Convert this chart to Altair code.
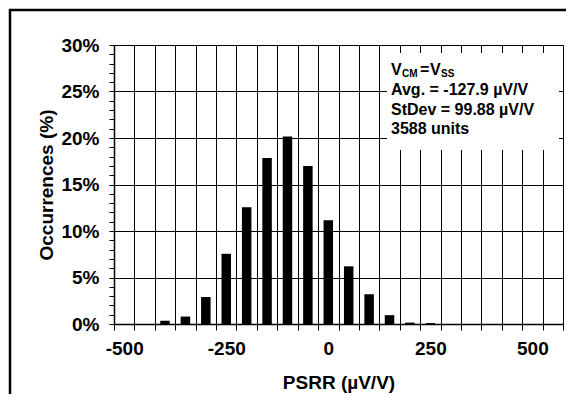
import altair as alt
import pandas as pd

# Histogram data (bin centres in µV/V, occurrences in %)
centers = [-400, -350, -300, -250, -200, -150, -100, -50, 0, 50, 100, 150, 200, 250]
occurrences = [0.35, 0.8, 2.9, 7.55, 12.55, 17.85, 20.15, 17.0, 11.15, 6.2, 3.2, 0.95, 0.15, 0.1]

x_ticks = list(range(-525, 576, 25))
y_ticks = list(range(0, 31, 1))
info_lines = ["Avg. = -127.9 µV/V", "StDev = 99.88 µV/V", "3588 units"]

FONT = "Liberation Sans"
df = pd.DataFrame({"psrr": centers, "occ": occurrences})
one = pd.DataFrame({"a": [0]})

x_axis = alt.Axis(
    values=x_ticks,
    title="PSRR (µV/V)",
    labelExpr="datum.value % 250 == 0 ? ('' + datum.value) : ''",
    labelOverlap=False,
    labelFlush=False,
    labelFont=FONT, labelFontSize=19, labelFontWeight="bold", labelColor="black",
    labelPadding=9,
    titleFont=FONT, titleFontSize=19, titleFontWeight="bold", titleColor="black",
    titleY=64, titleBaseline="alphabetic",
    grid=True,
    gridColor="black", gridWidth=1,
    gridOpacity={"condition": {"test": "abs(datum.value) % 50 == 25", "value": 1}, "value": 0},
    tickOpacity={"condition": {"test": "abs(datum.value) % 50 == 25", "value": 1}, "value": 0},
    tickColor="black", tickSize=6, tickWidth=1,
    domainColor="black", domainWidth=1.5,
)

y_axis = alt.Axis(
    values=y_ticks,
    title="Occurrences (%)",
    labelExpr="datum.value % 5 == 0 ? datum.value + '%' : ''",
    labelOverlap=False,
    labelFont=FONT, labelFontSize=19, labelFontWeight="bold", labelColor="black",
    labelPadding=10,
    titleFont=FONT, titleFontSize=19, titleFontWeight="bold", titleColor="black",
    titleX=-62, titleBaseline="alphabetic", titleAngle=-90,
    grid=True,
    gridColor="black", gridWidth=1,
    gridOpacity={"condition": {"test": "datum.value % 5 == 0", "value": 1}, "value": 0},
    tickColor="black", tickSize=5, tickWidth=1,
    domainColor="black", domainWidth=1.5,
)

bars = alt.Chart(df).mark_bar(color="black", size=9.5).encode(
    x=alt.X("psrr:Q", scale=alt.Scale(domain=[-525, 575], nice=False, zero=False, padding=0), axis=x_axis),
    y=alt.Y("occ:Q", scale=alt.Scale(domain=[0, 30], nice=False, padding=0), axis=y_axis),
)

box = alt.Chart(one).mark_rect(fill="white").encode(
    x=alt.value(273), x2=alt.value(445), y=alt.value(8), y2=alt.value(105)
)

def txt(s, x, y, size=16):
    return alt.Chart(one).mark_text(
        text=s, align="left", baseline="middle", font=FONT,
        fontSize=size, fontWeight="bold", color="black"
    ).encode(x=alt.value(x), y=alt.value(y))

texts = [
    txt("V", 277, 25), txt("CM", 288, 29, 10),
    txt("=", 306, 25), txt("V", 316, 25), txt("SS", 327, 29, 10),
]
for i, s in enumerate(info_lines):
    texts.append(txt(s, 277, 45 + i * 19.5))

frame_v = alt.Chart(one).mark_rule(color="black", strokeWidth=2.5).encode(
    x=alt.value(-104), y=alt.value(-36), y2=alt.value(400)
)
frame_h = alt.Chart(one).mark_rule(color="black", strokeWidth=2.5).encode(
    y=alt.value(-35), x=alt.value(-105), x2=alt.value(500)
)

chart = alt.layer(bars, box, *texts, frame_v, frame_h).properties(
    width=449, height=279,
    autosize=alt.AutoSizeParams(type="none"),
    padding={"left": 106, "top": 37, "right": 3, "bottom": 70},
).configure_view(stroke="black", strokeWidth=1.5).configure(background="white")

chart.save("out.html", embed_options={"renderer": "svg", "actions": False})
